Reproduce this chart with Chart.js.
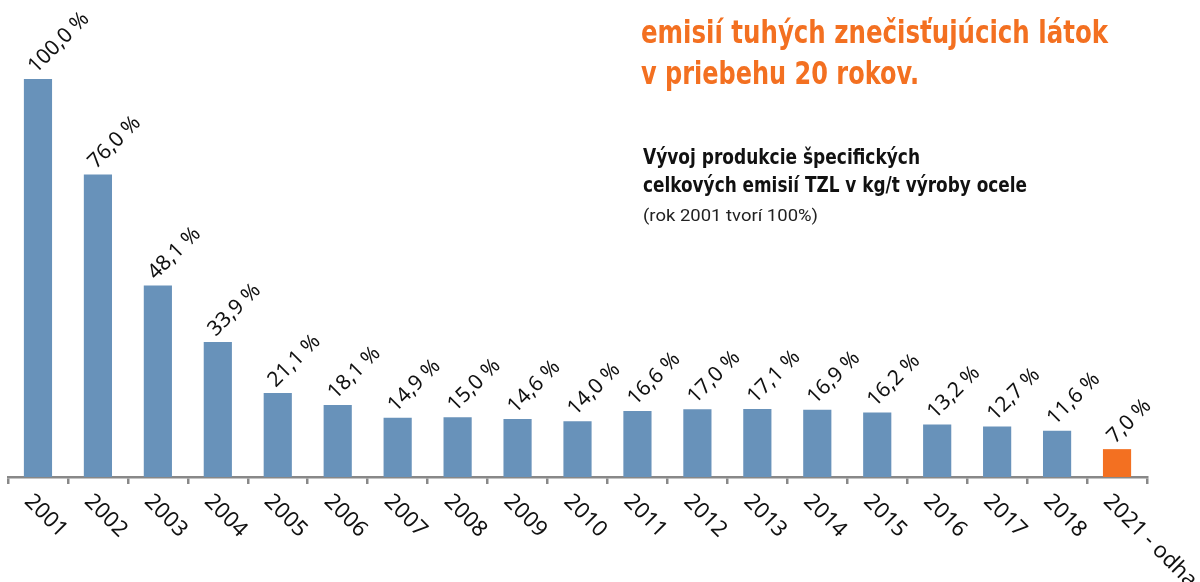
<!DOCTYPE html>
<html><head><meta charset="utf-8">
<script src="https://cdn.jsdelivr.net/npm/chart.js@4.4.1/dist/chart.umd.min.js"></script>
<style>
html,body{margin:0;padding:0;background:#fff;overflow:hidden;}
#wrap{position:relative;width:1200px;height:582px;}
canvas{position:absolute;left:0;top:0;}
.t{position:absolute;white-space:nowrap;transform-origin:0 0;}
.title{color:#F37021;font-family:"Liberation Sans Narrow","DejaVu Sans Condensed","Roboto",sans-serif;font-weight:bold;font-size:32px;line-height:32px;}
.sub{color:#111;font-family:"Liberation Sans Narrow","DejaVu Sans Condensed","Roboto",sans-serif;font-weight:bold;font-size:21px;line-height:21px;}
.note{color:#222;font-family:"Liberation Sans Narrow","Roboto",sans-serif;font-size:17px;line-height:17px;}
</style></head>
<body><div id="wrap">
<canvas id="c" width="1200" height="582"></canvas>
<div class="t title" id="t1" data-w="467" style="left:641px;top:16px;">emisií tuhých znečisťujúcich látok</div>
<div class="t title" id="t2" data-w="278" style="left:641px;top:57px;">v priebehu 20 rokov.</div>
<div class="t sub" id="s1" data-w="277" style="left:643px;top:147px;">Vývoj produkcie špecifických</div>
<div class="t sub" id="s2" data-w="384" style="left:643px;top:175px;">celkových emisií TZL v kg/t výroby ocele</div>
<div class="t note" id="n1" data-w="175" style="left:643px;top:207px;">(rok 2001 tvorí 100%)</div>
</div>
<script>
const categories = ["2001","2002","2003","2004","2005","2006","2007","2008","2009","2010","2011","2012","2013","2014","2015","2016","2017","2018","2021 - odhad"];
const values = [100.0,76.0,48.1,33.9,21.1,18.1,14.9,15.0,14.6,14.0,16.6,17.0,17.1,16.9,16.2,13.2,12.7,11.6,7.0];
const barColors = values.map((v,i)=> i===values.length-1 ? "#F37021" : "#6892BA");

document.querySelectorAll('.t').forEach(el=>{
  const w = el.getBoundingClientRect().width;
  const target = parseFloat(el.dataset.w);
  el.style.transform = 'scaleX(' + (target / w) + ')';
});

const labelPlugin = {
  id: 'labels',
  afterDatasetsDraw(chart){
    const ctx = chart.ctx;
    const meta = chart.getDatasetMeta(0);
    ctx.save();
    ctx.fillStyle = '#111';
    ctx.font = '21px "Noto Sans", sans-serif';
    ctx.textAlign = 'left';
    ctx.textBaseline = 'alphabetic';
    meta.data.forEach((bar,i)=>{
      const txt = values[i].toFixed(1).replace('.',',') + ' %';
      ctx.save();
      ctx.translate(bar.x - 2, bar.y - 5);
      ctx.rotate(-Math.PI/4);
      ctx.fillText(txt, 0, 0);
      ctx.restore();
    });
    const xs = chart.scales.x;
    ctx.font = '22px "Noto Sans", sans-serif';
    ctx.textBaseline = 'middle';
    categories.forEach((c,i)=>{
      const x = xs.getPixelForValue(i);
      ctx.save();
      ctx.translate(x - 10, xs.top + 21);
      ctx.rotate(Math.PI/4);
      ctx.fillText(c, 0, 0);
      ctx.restore();
    });
    ctx.restore();
  }
};

new Chart(document.getElementById('c'), {
  type: 'bar',
  data: { labels: categories, datasets: [{ data: values, backgroundColor: barColors, barPercentage: 0.47, categoryPercentage: 1.0 }] },
  options: {
    responsive: false, animation: false,
    layout: { padding: { left: 8, right: 53, top: 79, bottom: 0 } },
    plugins: { legend: { display: false }, tooltip: { enabled: false } },
    scales: {
      x: {
        offset: true,
        grid: { display: true, offset: true, drawOnChartArea: false, drawTicks: true, tickLength: 7, color: '#888', lineWidth: 2.5 },
        border: { display: true, color: '#888', width: 2.5 },
        ticks: { display: false },
        afterFit(s){ s.height = 105; }
      },
      y: { display: false, min: 0, max: 100 }
    }
  },
  plugins: [labelPlugin]
});
</script>
</body></html>
